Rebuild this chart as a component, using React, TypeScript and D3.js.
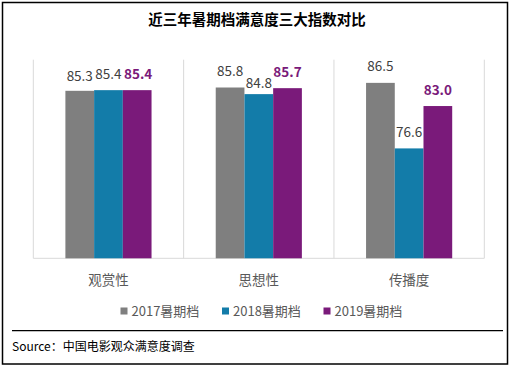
import React from "react";
import * as d3 from "d3";

const categories = ["观赏性", "思想性", "传播度"];
const seriesNames = ["2017暑期档", "2018暑期档", "2019暑期档"];
const values2017 = [85.3, 85.8, 86.5];
const values2018 = [85.4, 84.8, 76.6];
const values2019 = [85.4, 85.7, 83.0];
const yDomain = [60, 90];
const title = "近三年暑期档满意度三大指数对比";
const source = "Source：中国电影观众满意度调查";

const colors = ["#7f7f7f", "#137ca9", "#7a1a7a"];
const FONT = "'Noto Sans CJK SC', 'Noto Sans', sans-serif";

export default function App() {
  const W = 512, H = 368;
  const plotLeft = 33.3, plotRight = 484.3, plotTop = 59.7, plotBottom = 258.3;
  const x = d3.scaleBand<string>().domain(categories).range([plotLeft, plotRight]).paddingInner(0).paddingOuter(0);
  const bw = x.bandwidth();
  const groupW = bw * 0.573;
  const xs = d3.scaleBand<string>().domain(seriesNames).range([(bw - groupW) / 2, (bw + groupW) / 2]).padding(0);
  const y = d3.scaleLinear().domain(yDomain).range([plotBottom, plotTop]);
  const series = [values2017, values2018, values2019];

  const boundaries = [...categories.map((c) => x(c) as number), plotRight];

  return (
    <svg width={W} height={H} style={{ position: "absolute", left: 0, top: 0 }} xmlns="http://www.w3.org/2000/svg">
      <rect x={0} y={0} width={W} height={H} fill="#fff" />
      <rect x={2.5} y={2.5} width={505} height={361.5} fill="none" stroke="#000" strokeWidth={1.5} />
      <text x={257} y={25} textAnchor="middle" fontFamily={FONT} fontSize={14.5} fontWeight="bold" fill="#000">{title}</text>

      {boundaries.map((bx, i) => (
        <line key={"g" + i} x1={bx} x2={bx} y1={plotTop} y2={plotBottom} stroke="#d9d9d9" strokeWidth={1} />
      ))}
      <line x1={plotLeft} x2={plotRight} y1={plotBottom} y2={plotBottom} stroke="#d9d9d9" strokeWidth={1} />

      {series.map((vals, si) =>
        categories.map((c, ci) => {
          const bx = (x(c) as number) + (xs(seriesNames[si]) as number);
          const by = y(vals[ci]);
          return (
            <rect key={`b${si}-${ci}`} x={bx} y={by} width={xs.bandwidth()} height={plotBottom - by} fill={colors[si]} />
          );
        })
      )}

      {series.map((vals, si) =>
        categories.map((c, ci) => {
          const cx = (x(c) as number) + (xs(seriesNames[si]) as number) + xs.bandwidth() / 2;
          const by = y(vals[ci]);
          const bold = si === 2;
          // Excel-like label nudge for the overlapping 84.8 label
          const nudge = si === 1 && ci === 1 ? 5 : si === 0 && ci === 0 ? 1.5 : 0;
          return (
            <text
              key={`l${si}-${ci}`}
              x={cx + (si === 2 && ci === 0 ? 1 : 0)}
              y={by - 11.5 + nudge}
              textAnchor="middle"
              fontFamily={FONT}
              fontSize={13.5}
              fontWeight={bold ? "bold" : "normal"}
              fill={bold ? colors[2] : "#404040"}
            >
              {vals[ci].toFixed(1)}
            </text>
          );
        })
      )}

      {categories.map((c) => (
        <text key={"c" + c} x={(x(c) as number) + bw / 2} y={285} textAnchor="middle" fontFamily={FONT} fontSize={13.5} fill="#595959">
          {c}
        </text>
      ))}

      {seriesNames.map((s, i) => {
        const lx = 120.5 + i * 101.5;
        return (
          <g key={"lg" + s}>
            <rect x={lx} y={307.5} width={7} height={7} fill={colors[i]} />
            <text x={lx + 11} y={315.5} fontFamily={FONT} fontSize={13} fill="#595959">{s}</text>
          </g>
        );
      })}

      <line x1={12} x2={503} y1={330.7} y2={330.7} stroke="#000" strokeWidth={1.3} />
      <text x={12} y={351} fontFamily={FONT} fontSize={12} fill="#000">{source}</text>
    </svg>
  );
}
